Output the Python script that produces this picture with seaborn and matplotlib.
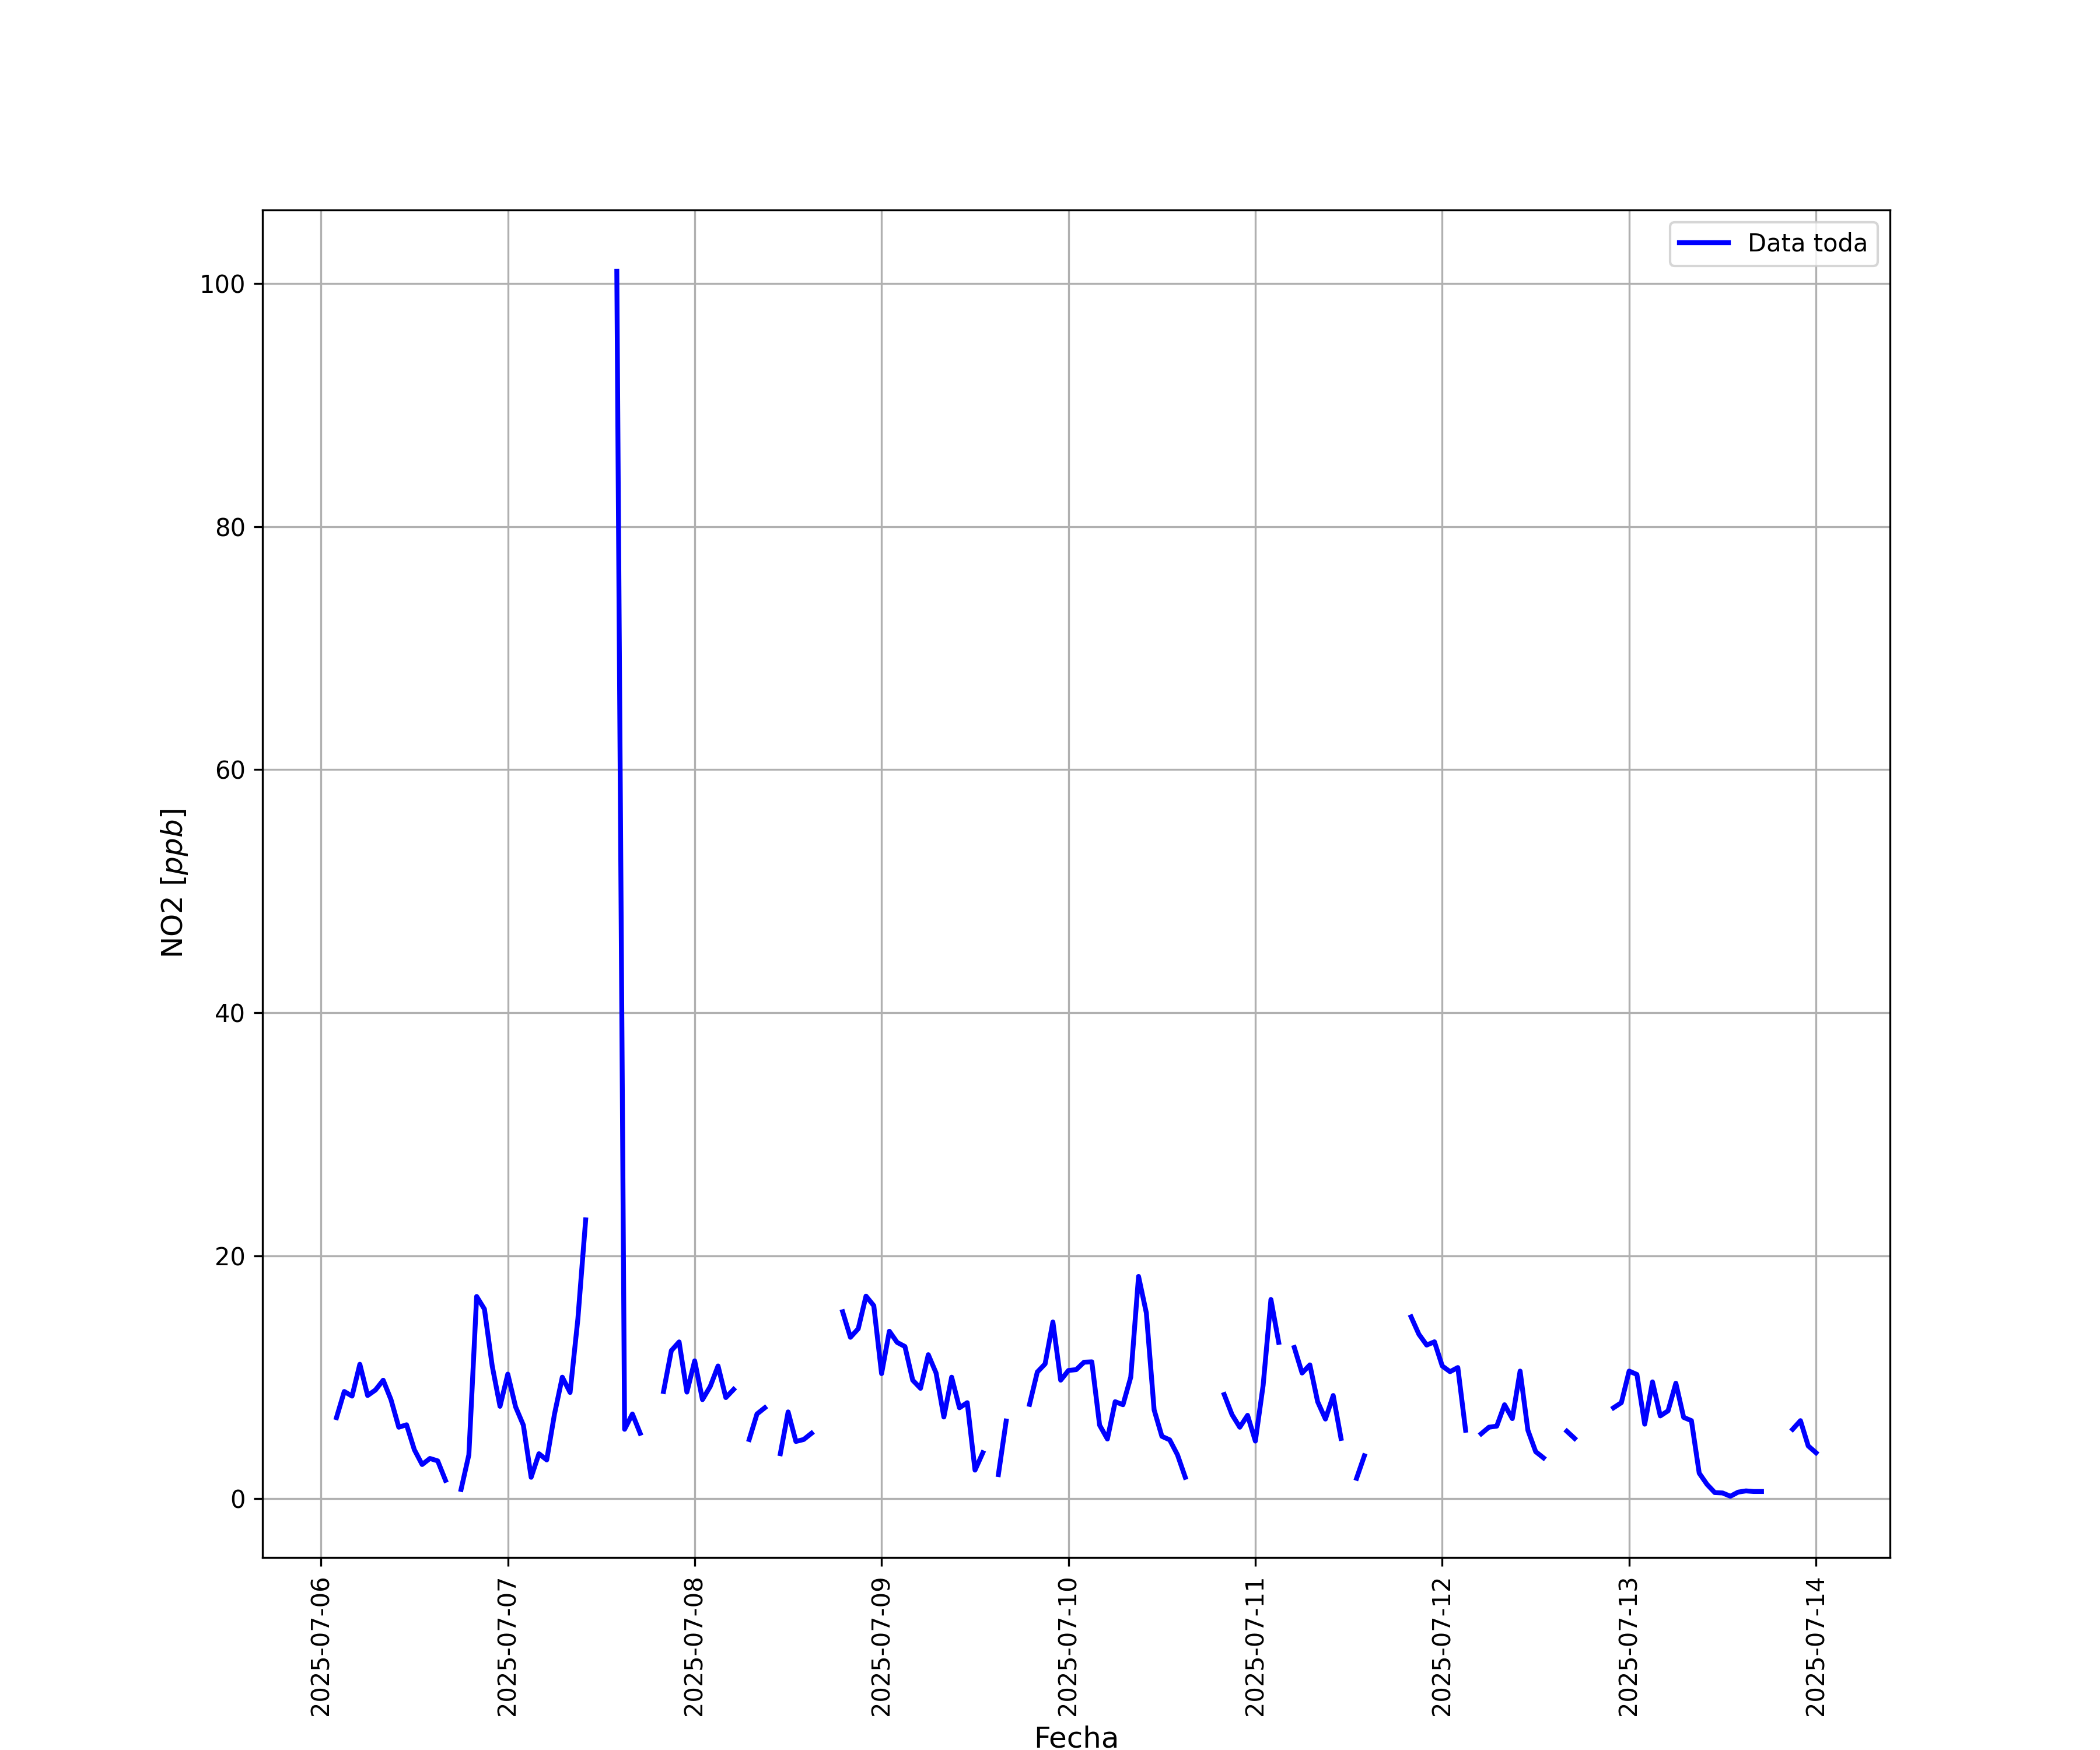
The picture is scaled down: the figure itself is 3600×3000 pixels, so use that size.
import numpy as np
import pandas as pd
import seaborn as sns
import matplotlib.pyplot as plt
import matplotlib.dates as mdates

# serie horaria de NO2, desde 2025-07-06 02:00 (nan = sin dato)
inicio = '2025-07-06 02:00'
no2 = [6.67, 8.82, 8.44, 11.06, 8.49, 8.94, 9.75, 8.15, 5.88, 6.08, 4.03, 2.81, 3.31, 3.11, 1.51,
       np.nan, 0.76, 3.61, 16.64, 15.6, 10.92, 7.6,
       10.25, 7.56, 6.05, 1.76, 3.70, 3.19, 6.97, 10.0, 8.74, 14.79, 22.94,
       np.nan, np.nan, np.nan, 101.0, 5.71, 6.97, 5.38,
       np.nan, np.nan, 8.82, 12.18, 12.9, 8.77,
       11.34, 8.15, 9.24, 10.92, 8.32, 8.99,
       np.nan, 4.87, 6.97, 7.48,
       np.nan, 3.70, 7.14, 4.71, 4.87, 5.38,
       np.nan, np.nan, np.nan, 15.38, 13.28, 13.98, 16.67, 15.88,
       10.29, 13.78, 12.86, 12.52, 9.75, 9.08, 11.85, 10.34, 6.72, 10.0, 7.48, 7.9, 2.35, 3.78,
       np.nan, 1.98, 6.39,
       np.nan, np.nan, 7.76, 10.42, 11.09, 14.54, 9.75,
       10.55, 10.62, 11.23, 11.26, 6.05, 4.91, 7.98, 7.73, 10.0, 18.29, 15.29, 7.31, 5.13, 4.84, 3.61, 1.76,
       np.nan, np.nan, np.nan, np.nan, 8.57, 6.92, 5.88, 6.86,
       4.74, 9.33, 16.39, 12.86,
       np.nan, 12.44, 10.34, 11.01, 7.98, 6.55, 8.49, 4.96,
       np.nan, 1.68, 3.53,
       np.nan, np.nan, np.nan, np.nan, np.nan, 14.96, 13.53, 12.64, 12.91,
       10.92, 10.45, 10.79, 5.63,
       np.nan, 5.34, 5.88, 5.97, 7.73, 6.59, 10.5, 5.63, 3.87, 3.36,
       np.nan, np.nan, 5.55, 4.96,
       np.nan, np.nan, np.nan, np.nan, 7.48, 7.9,
       10.5, 10.22, 6.13, 9.61, 6.81, 7.23, 9.5, 6.69, 6.42, 2.1, 1.18, 0.5, 0.47, 0.2, 0.54, 0.64, 0.59, 0.59,
       np.nan, np.nan, np.nan, 5.71, 6.42, 4.34,
       3.78]

df = pd.DataFrame({'Fecha': pd.date_range(inicio, periods=len(no2), freq='h'), 'NO2': no2})

# tramos continuos (lineplot elimina los nan y uniría los huecos)
df['tramo'] = df['NO2'].isna().cumsum()
df = df.dropna()

fig, ax = plt.subplots(figsize=(12, 10), dpi=300)
primero = True
for _, d in df.groupby('tramo'):
    sns.lineplot(data=d, x='Fecha', y='NO2', ax=ax, color='blue', linewidth=2, estimator=None,
                 label='Data toda' if primero else None, legend=False)
    primero = False

ax.xaxis.set_major_locator(mdates.DayLocator())
ax.xaxis.set_major_formatter(mdates.DateFormatter('%Y-%m-%d'))
plt.setp(ax.get_xticklabels(), rotation=90)
ax.set_xlabel('Fecha', fontsize=12)
ax.set_ylabel('NO2 [$ppb$]', fontsize=12)
ax.grid(True)
ax.legend(loc='upper right')

plt.savefig('out.png', dpi=300)
